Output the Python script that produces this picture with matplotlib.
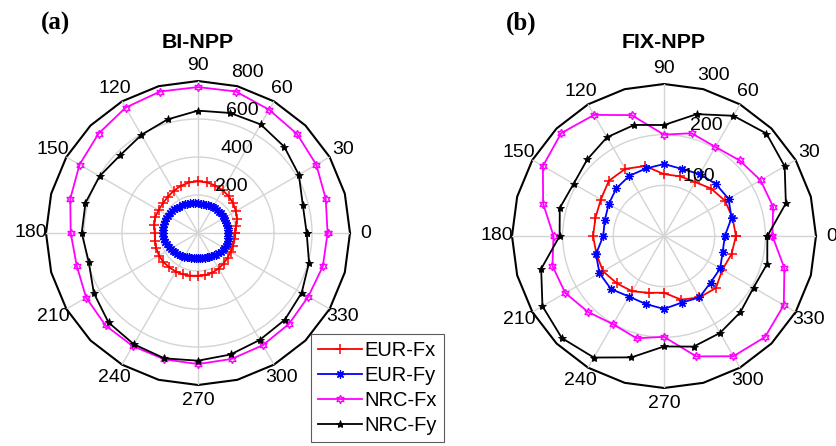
import numpy as np
import matplotlib
matplotlib.use('Agg')
import matplotlib.pyplot as plt
from matplotlib.lines import Line2D

plt.rcParams['font.family'] = ['Liberation Sans', 'DejaVu Sans']

# ---- data (angles in degrees, magnitudes) ----
ang15 = np.arange(0, 360, 15)
ang10 = np.arange(0, 360, 10)
ang5 = np.arange(0, 360, 5)

# (a) BI-NPP
a_eur_fx = [195, 205, 218, 230, 242, 252, 260, 266, 270, 272, 270, 264,
            256, 248, 242, 240, 240, 234, 228, 230, 234, 237, 238, 236,
            234, 232, 228, 225, 225, 222, 216, 210, 203, 198, 195, 193]
a_eur_fy = [160, 161, 160, 159, 158, 158, 158, 159, 160, 160, 159, 158,
            158, 157, 156, 155, 155, 155, 156, 157, 159, 161, 163, 166,
            168, 170, 173, 176, 178, 180, 182, 183, 184, 185, 185, 184,
            184, 183, 181, 178, 174, 170, 166, 162, 157, 153, 149, 146,
            143, 140, 137, 135, 134, 133, 133, 133, 134, 135, 137, 139,
            141, 144, 148, 152, 156, 159, 161, 162, 162, 162, 161, 160]
a_nrc_fx = [682, 696, 719, 737, 749, 771, 768, 771, 762, 740, 720, 696,
            670, 661, 680, 688, 687, 688, 690, 686, 682, 677, 670, 680]
a_nrc_fy = [572, 571, 613, 642, 660, 654, 644, 619, 596, 579, 598, 613,
            612, 595, 633, 666, 676, 683, 672, 662, 650, 646, 630, 605]

# (b) FIX-NPP
b_eur_fx = [142, 140, 139, 132, 123, 122, 122, 143, 153, 154, 144, 140,
            140, 138, 139, 132, 126, 116, 112, 130, 140, 145, 133, 138]
b_eur_fy = [120, 138, 147, 145, 141, 137, 142, 138, 137, 133, 126, 121,
            120, 139, 147, 148, 138, 139, 144, 136, 140, 130, 128, 120]
b_nrc_fx = [214, 223, 220, 211, 203, 210, 200, 247, 276, 287, 276, 247,
            218, 228, 225, 212, 201, 209, 199, 246, 274, 282, 273, 246]
b_nrc_fy = [204, 249, 275, 286, 274, 249, 219, 227, 225, 214, 206, 213,
            206, 251, 277, 285, 277, 248, 218, 226, 221, 213, 204, 211]

labels = ['EUR-Fx', 'EUR-Fy', 'NRC-Fx', 'NRC-Fy']
angle_labels = np.arange(0, 360, 30)

W, H = 837, 446
fig = plt.figure(figsize=(W / 100, H / 100), dpi=100)

styles = [
    dict(color='#ff0000', marker='+', ms=7, mew=1.1),
    dict(color='#0000ff', marker=(8, 2, 0), ms=6, mew=0.9),
    dict(color='#ff00ff', marker=(6, 1, 0), ms=6, mew=1.0, mfc='none'),
    dict(color='black', marker='*', ms=6, mew=0.6),
]


def closed(a, v):
    a = np.deg2rad(np.append(a, a[0]))
    v = np.append(v, v[0])
    return a, v


def polar_panel(cx, cy, rpx, rmax, rings, series, title, tag):
    ax = fig.add_axes([(cx - rpx) / W, (H - cy - rpx) / H, 2 * rpx / W, 2 * rpx / H],
                      projection='polar')
    ax.set_ylim(0, rmax)
    ax.set_xticks(np.deg2rad(angle_labels))
    ax.set_yticks(rings)
    ax.set_xticklabels([])
    ax.set_yticklabels([])
    ax.grid(True, color='#d4d4d4', lw=1.0)
    ax.spines['polar'].set_visible(False)
    ax.patch.set_visible(False)
    ax.tick_params(length=0)

    # outer frame (MATLAB style polygon)
    fa, fr = closed(ang15, np.full(len(ang15), rmax))
    ax.plot(fa, fr, color='black', lw=1.5, clip_on=False, zorder=1)

    for (a, v), st in zip(series, styles):
        aa, vv = closed(a, v)
        ax.plot(aa, vv, lw=1.3, clip_on=False, zorder=3, **st)

    for d in angle_labels:
        ax.text(np.deg2rad(d), 1.1 * rmax, str(d), ha='center', va='center',
                fontsize=14)
    for r in list(rings) + [rmax]:
        ax.annotate(str(r), xy=(np.deg2rad(82), r * 1.0125), xytext=(8.4, 0),
                    textcoords='offset points', ha='left', va='bottom',
                    fontsize=14, annotation_clip=False, zorder=4)

    fig.text(cx / W, 1 - 42 / H, title, ha='center', va='center',
             fontsize=15.4, fontweight='bold')
    fig.text((cx - 143) / W, 1 - 23 / H, tag, ha='center', va='center',
             fontsize=18, fontweight='bold', family='Liberation Serif')
    return ax


polar_panel(198, 233, 152, 800, [200, 400, 600],
            [(ang10, a_eur_fx), (ang5, a_eur_fy), (ang15, a_nrc_fx), (ang15, a_nrc_fy)],
            'BI-NPP', '(a)')
polar_panel(664, 236, 152, 300, [100, 200],
            [(ang15, b_eur_fx), (ang15, b_eur_fy), (ang15, b_nrc_fx), (ang15, b_nrc_fy)],
            'FIX-NPP', '(b)')

handles = [Line2D([], [], lw=1.3, **st) for st in styles]
leg = fig.legend(handles, labels, loc='upper left',
                 bbox_to_anchor=(311 / W, 1 - 334 / H), fontsize=14.5,
                 frameon=True, fancybox=False, edgecolor='#333333',
                 handlelength=2.2, handletextpad=0.1, labelspacing=0.3,
                 borderpad=0.35, borderaxespad=0)
leg.get_frame().set_linewidth(0.8)

fig.savefig('out.png', dpi=100)
